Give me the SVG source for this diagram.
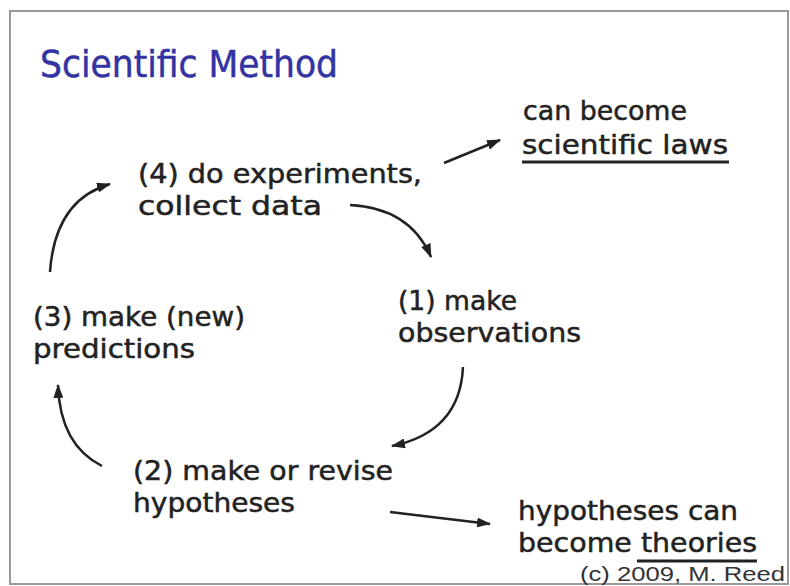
<svg xmlns="http://www.w3.org/2000/svg" width="790" height="586" viewBox="0 0 790 586">
<defs>
<style>
.t{font-family:"DejaVu Sans","Open Sans",sans-serif;font-size:27px;fill:#222;stroke:#222;stroke-width:0.5}
.title{font-family:"DejaVu Sans","Open Sans",sans-serif;font-size:38px;fill:#3333a3;stroke:#3333a3;stroke-width:0.5}
.copy{font-family:"Liberation Sans",Arial,sans-serif;font-size:20px;fill:#333}
.c{fill:none;stroke:#222;stroke-width:2.5}
.u{stroke:#222;stroke-width:3}
</style>
<marker id="ah" markerWidth="14" markerHeight="10" refX="13" refY="5" orient="auto" markerUnits="userSpaceOnUse">
<path d="M0,0 L14,5 L0,10 Z" fill="#222"/>
</marker>
</defs>
<rect width="790" height="586" fill="#fff"/>
<rect x="10" y="11" width="778" height="573" fill="#fff" stroke="#999" stroke-width="2"/>
<g id="title"><text class="title" x="40" y="77" textLength="298" lengthAdjust="spacingAndGlyphs">Scientific Method</text></g>
<g id="n4">
<text class="t" x="138" y="183" textLength="284" lengthAdjust="spacingAndGlyphs">(4) do experiments,</text>
<text class="t" x="138" y="215" textLength="184" lengthAdjust="spacingAndGlyphs">collect data</text>
</g>
<g id="laws">
<text class="t" x="523" y="120" textLength="164" lengthAdjust="spacingAndGlyphs">can become</text>
<text class="t" x="522" y="154" textLength="206" lengthAdjust="spacingAndGlyphs">scientific laws</text>
<line class="u" x1="522" y1="162" x2="729" y2="162"/>
</g>
<g id="n1">
<text class="t" x="398" y="310" textLength="119" lengthAdjust="spacingAndGlyphs">(1) make</text>
<text class="t" x="398" y="342" textLength="183" lengthAdjust="spacingAndGlyphs">observations</text>
</g>
<g id="n3">
<text class="t" x="33" y="326" textLength="212" lengthAdjust="spacingAndGlyphs">(3) make (new)</text>
<text class="t" x="33" y="358" textLength="162" lengthAdjust="spacingAndGlyphs">predictions</text>
</g>
<g id="n2">
<text class="t" x="133" y="480" textLength="260" lengthAdjust="spacingAndGlyphs">(2) make or revise</text>
<text class="t" x="133" y="512" textLength="162" lengthAdjust="spacingAndGlyphs">hypotheses</text>
</g>
<g id="theories">
<text class="t" x="518" y="520" textLength="220" lengthAdjust="spacingAndGlyphs">hypotheses can</text>
<text class="t" x="518" y="552" textLength="239" lengthAdjust="spacingAndGlyphs">become theories</text>
<line class="u" x1="637" y1="561" x2="757" y2="561"/>
</g>
<g id="copyright">
<text class="copy" x="580" y="581" textLength="205" lengthAdjust="spacingAndGlyphs">(c) 2009, M. Reed</text>
</g>
<g id="connectors">
<path class="c" d="M444,163 L500,140" marker-end="url(#ah)"/>
<path class="c" d="M350,205 Q410,208 431,257" marker-end="url(#ah)"/>
<path class="c" d="M463,367 Q460,432 392,446" marker-end="url(#ah)"/>
<path class="c" d="M102,466 Q60,445 58,385" marker-end="url(#ah)"/>
<path class="c" d="M50,272 Q55,200 110,184" marker-end="url(#ah)"/>
<path class="c" d="M390,512 L490,524" marker-end="url(#ah)"/>
</g>
</svg>
